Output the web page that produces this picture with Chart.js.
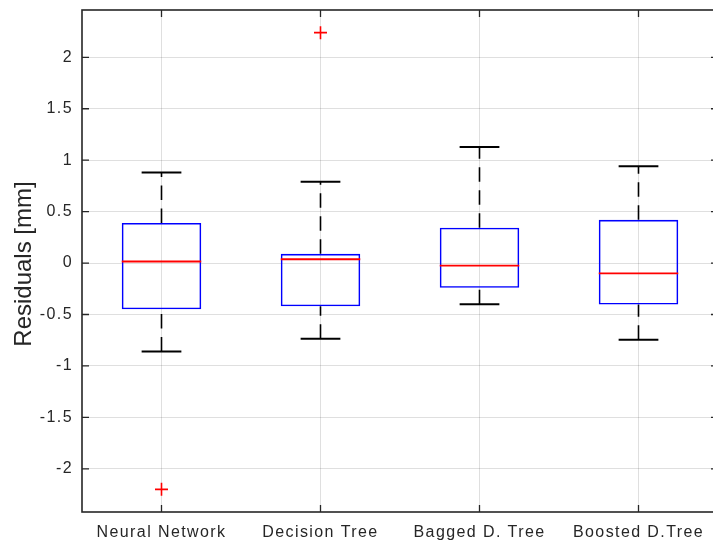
<!DOCTYPE html>
<html>
<head>
<meta charset="utf-8">
<style>
  html, body { margin: 0; padding: 0; background: #ffffff; overflow: hidden; }
  canvas { display: block; }
</style>
<script src="https://cdn.jsdelivr.net/npm/chart.js@4.4.1/dist/chart.umd.min.js"></script>
</head>
<body>
<canvas id="residuals" width="720" height="546"></canvas>
<script>
// Residual distribution per regression model
const categories = ['Neural Network', 'Decision Tree', 'Bagged D. Tree', 'Boosted D.Tree'];
const lowerWhisker  = [-0.86, -0.735, -0.40, -0.745];
const lowerQuartile = [-0.45, -0.42, -0.24, -0.404];
const medians       = [0.015, 0.037, -0.024, -0.10];
const upperQuartile = [0.39, 0.09, 0.343, 0.42];
const upperWhisker  = [0.88, 0.79, 1.127, 0.942];
const outlierCategory = ['Neural Network', 'Decision Tree'];
const outlierValue    = [-2.20, 2.24];
const yTicks  = [-2, -1.5, -1, -0.5, 0, 0.5, 1, 1.5, 2];
const yLimits = [-2.42, 2.46];
const yTitle  = 'Residuals [mm]';

const FONT = '"Liberation Sans", Arial, Helvetica, sans-serif';
const TEXT = '#262626';
const GRID = 'rgba(38,38,38,0.15)';

// Whiskers, caps, medians, axes frame with inward ticks, and the y title
const boxParts = {
  id: 'boxParts',
  beforeDraw(chart) {
    chart.ctx.letterSpacing = '1.4px';
  },
  beforeDatasetsDraw(chart) {
    const { ctx, scales: { y } } = chart;
    const boxes = chart.getDatasetMeta(0).data;
    ctx.save();
    ctx.strokeStyle = '#000000';
    const seg = (x1, y1, x2, y2) => { ctx.beginPath(); ctx.moveTo(x1, y1); ctx.lineTo(x2, y2); ctx.stroke(); };
    boxes.forEach((box, i) => {
      const x = box.x;
      const capHalf = box.width / 4;
      const pLo = y.getPixelForValue(lowerWhisker[i]);
      const pQ1 = y.getPixelForValue(lowerQuartile[i]);
      const pQ3 = y.getPixelForValue(upperQuartile[i]);
      const pHi = y.getPixelForValue(upperWhisker[i]);
      ctx.lineWidth = 1.6;
      ctx.setLineDash([14.5, 8.5]);
      seg(x, pLo, x, pQ1);
      seg(x, pQ3, x, pHi);
      ctx.setLineDash([]);
      ctx.lineWidth = 2;
      seg(x - capHalf, pLo, x + capHalf, pLo);
      seg(x - capHalf, pHi, x + capHalf, pHi);
    });
    ctx.restore();
  },
  afterDatasetsDraw(chart) {
    const { ctx, scales: { y } } = chart;
    const boxes = chart.getDatasetMeta(0).data;
    ctx.save();
    ctx.strokeStyle = '#ff0000';
    ctx.lineWidth = 1.8;
    boxes.forEach((box, i) => {
      const p = y.getPixelForValue(medians[i]);
      ctx.beginPath();
      ctx.moveTo(box.x - box.width / 2, p);
      ctx.lineTo(box.x + box.width / 2, p);
      ctx.stroke();
    });
    ctx.restore();
  },
  afterDraw(chart) {
    const { ctx, chartArea: a, scales: { x, y } } = chart;
    ctx.save();
    ctx.letterSpacing = '0px';
    ctx.strokeStyle = TEXT;
    ctx.lineWidth = 1.3;
    const tick = 7;
    yTicks.forEach(v => {
      const p = y.getPixelForValue(v);
      ctx.beginPath();
      ctx.moveTo(a.left, p); ctx.lineTo(a.left + tick, p);
      ctx.moveTo(a.right, p); ctx.lineTo(a.right - tick, p);
      ctx.stroke();
    });
    categories.forEach((c, i) => {
      const p = x.getPixelForValue(i);
      ctx.beginPath();
      ctx.moveTo(p, a.bottom); ctx.lineTo(p, a.bottom - tick);
      ctx.moveTo(p, a.top); ctx.lineTo(p, a.top + tick);
      ctx.stroke();
    });
    ctx.lineWidth = 1.6;
    ctx.strokeRect(a.left, a.top, a.right - a.left, a.bottom - a.top);

    ctx.fillStyle = TEXT;
    ctx.font = '24px ' + FONT;
    ctx.translate(31, (a.top + a.bottom) / 2 + 3);
    ctx.rotate(-Math.PI / 2);
    ctx.textAlign = 'center';
    ctx.textBaseline = 'alphabetic';
    ctx.fillText(yTitle, 0, 0);
    ctx.restore();
    ctx.letterSpacing = '0px';
  }
};

new Chart(document.getElementById('residuals'), {
  type: 'bar',
  data: {
    labels: categories,
    datasets: [
      {
        type: 'bar',
        data: lowerQuartile.map((q1, i) => [q1, upperQuartile[i]]),
        backgroundColor: 'rgba(0,0,0,0)',
        borderColor: '#0000ff',
        borderWidth: 1.6,
        borderSkipped: false,
        barPercentage: 0.5,
        categoryPercentage: 1.0
      },
      {
        type: 'scatter',
        data: outlierCategory.map((c, i) => ({ x: c, y: outlierValue[i] })),
        pointStyle: 'cross',
        pointRadius: 6.5,
        pointBorderWidth: 1.6,
        borderColor: '#ff0000',
        backgroundColor: '#ff0000',
        showLine: false
      }
    ]
  },
  options: {
    responsive: false,
    animation: false,
    events: [],
    layout: { autoPadding: false, padding: { top: 10, right: 2, left: 0, bottom: 0 } },
    plugins: { legend: { display: false }, tooltip: { enabled: false } },
    scales: {
      x: {
        type: 'category',
        offset: true,
        grid: { display: true, offset: false, color: GRID, lineWidth: 1, drawTicks: false },
        border: { display: false },
        ticks: { color: TEXT, font: { family: FONT, size: 16 }, padding: 11, maxRotation: 0, autoSkip: false },
        afterFit(scale) {
          scale.height = 34;
          scale.paddingLeft = 0; scale.paddingRight = 0;
          scale.paddingTop = 0; scale.paddingBottom = 0;
        }
      },
      y: {
        min: yLimits[0],
        max: yLimits[1],
        grid: { color: GRID, lineWidth: 1, drawTicks: false },
        border: { display: false },
        afterBuildTicks(scale) { scale.ticks = yTicks.map(v => ({ value: v })); },
        ticks: {
          color: TEXT,
          font: { family: FONT, size: 16 },
          padding: 9,
          callback: v => String(v)
        },
        afterFit(scale) {
          scale.width = 82;
          scale.paddingLeft = 0; scale.paddingRight = 0;
          scale.paddingTop = 0; scale.paddingBottom = 0;
        }
      }
    }
  },
  plugins: [boxParts]
});
</script>
</body>
</html>
